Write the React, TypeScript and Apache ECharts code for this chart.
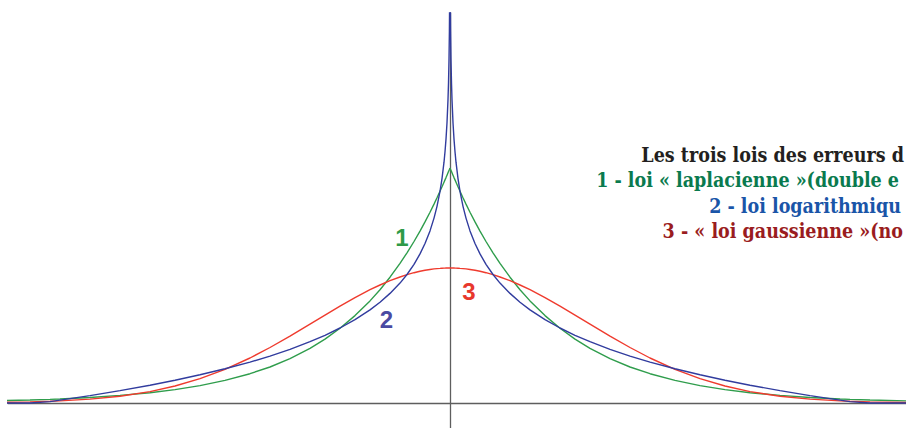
import React, { useEffect, useRef } from "react";
import * as echarts from "echarts";

// distance from the centre (right half; the picture is symmetric)
const offsets = [0, 0.3, 0.6, 1, 1.5, 2, 3, 4, 5, 6, 8, 10, 13, 16, 20, 25, 30, 36, 43, 50, 60, 70, 80, 95, 110, 125, 140, 160, 180, 200, 225, 250, 275, 300, 330, 360, 390, 400, 420, 460];
// 1 - laplacienne
const laplace = [235, 234.3, 233.5, 232.6, 231.4, 230.2, 227.8, 225.4, 223.1, 220.8, 216.2, 211.8, 205.2, 198.9, 190.8, 181.1, 171.9, 161.5, 150.2, 139.6, 125.8, 113.3, 102.1, 87.4, 74.7, 63.9, 54.7, 44.4, 36.0, 29.3, 22.6, 17.4, 13.4, 10.3, 7.6, 5.5, 4.0, 3.6, 3.0, 2.0];
// 2 - logarithmique
const logarithmic = [420, 411.5, 372.0, 342.9, 319.8, 303.4, 280.3, 263.9, 251.2, 240.8, 224.4, 211.7, 196.7, 184.9, 172.1, 159.5, 149.1, 138.7, 128.5, 119.9, 109.6, 100.8, 93.1, 83.3, 75.0, 67.7, 61.3, 53.6, 46.9, 40.9, 34.2, 28.2, 22.8, 17.8, 12.4, 7.4, 2.9, 1.4, 0, 0];
// 3 - gaussienne
const gaussian = [135, 135, 135, 135, 135, 135, 135, 135, 134.9, 134.9, 134.8, 134.6, 134.4, 134.1, 133.5, 132.7, 131.7, 130.3, 128.3, 126.0, 122.3, 118.0, 113.3, 105.4, 96.9, 87.9, 78.9, 66.9, 55.5, 45.0, 33.7, 24.3, 17.0, 11.4, 6.8, 3.9, 2.1, 1.7, 1.1, 0.4];

// the caption, as far as it is visible in the picture (it runs past the right edge)
const titleLines = [
  "Les trois lois des erreurs d",
  "1 - loi « laplacienne »(double e",
  "2 - loi logarithmiqu",
  "3 - « loi gaussienne »(no",
];
const titleColors = ["#231f20", "#0a7a4e", "#1a55a8", "#9a1c20"];
const curveLabels = ["1", "2", "3"];

const GREEN = "#2f9d4c";
const BLUE = "#313c9e";
const RED = "#ef3b2e";

function halves(name: string, vals: number[], color: string) {
  const right = offsets.map((o, i) => [o, vals[i]]);
  const left = offsets.map((o, i) => [-o, vals[i]]).reverse();
  const base = {
    type: "line",
    name,
    showSymbol: false,
    smooth: false,
    lineStyle: { color, width: 1.4 },
    itemStyle: { color },
    clip: true,
  };
  return [
    { ...base, data: left },
    { ...base, data: right },
  ];
}

export default function App() {
  const ref = useRef<HTMLDivElement>(null);
  useEffect(() => {
    document.body.style.margin = "0";
    const chart = echarts.init(ref.current!, null, { renderer: "svg" });
    const titleFont = 'bold 19.5px "DejaVu Serif Condensed", "DejaVu Serif", serif';
    const labelFont = 'bold 24px "Liberation Sans", Arial, sans-serif';
    const titleRight = [904, 899, 901, 903];
    chart.setOption({
      animation: false,
      backgroundColor: "#ffffff",
      grid: { left: 8, right: 0, top: 13, bottom: 0 },
      xAxis: {
        type: "value",
        min: -442,
        max: 456,
        axisLine: { show: true, onZero: true, lineStyle: { color: "#5e5e5e", width: 1.3 } },
        axisTick: { show: false },
        axisLabel: { show: false },
        splitLine: { show: false },
      },
      yAxis: {
        type: "value",
        min: -25,
        max: 390,
        axisLine: { show: true, onZero: true, lineStyle: { color: "#5e5e5e", width: 1.3 } },
        axisTick: { show: false },
        axisLabel: { show: false },
        splitLine: { show: false },
      },
      series: [
        ...halves("laplacienne", laplace, GREEN),
        ...halves("gaussienne", gaussian, RED),
        ...halves("logarithmique", logarithmic, BLUE),
      ],
      graphic: [
        ...titleLines.map((t, i) => ({
          type: "text",
          x: titleRight[i],
          y: 155 + i * 25.5,
          style: {
            text: t,
            fill: titleColors[i],
            font: titleFont,
            textAlign: "right",
            textVerticalAlign: "middle",
          },
        })),
        {
          type: "text",
          x: 402,
          y: 237,
          style: { text: curveLabels[0], fill: "#2e9a48", font: labelFont, textAlign: "center", textVerticalAlign: "middle" },
        },
        {
          type: "text",
          x: 386.5,
          y: 319,
          style: { text: curveLabels[1], fill: "#4a4aa2", font: labelFont, textAlign: "center", textVerticalAlign: "middle" },
        },
        {
          type: "text",
          x: 469,
          y: 291,
          style: { text: curveLabels[2], fill: "#e8382c", font: labelFont, textAlign: "center", textVerticalAlign: "middle" },
        },
      ],
    });
    return () => chart.dispose();
  }, []);
  return <div ref={ref} style={{ width: 906, height: 428 }} />;
}
